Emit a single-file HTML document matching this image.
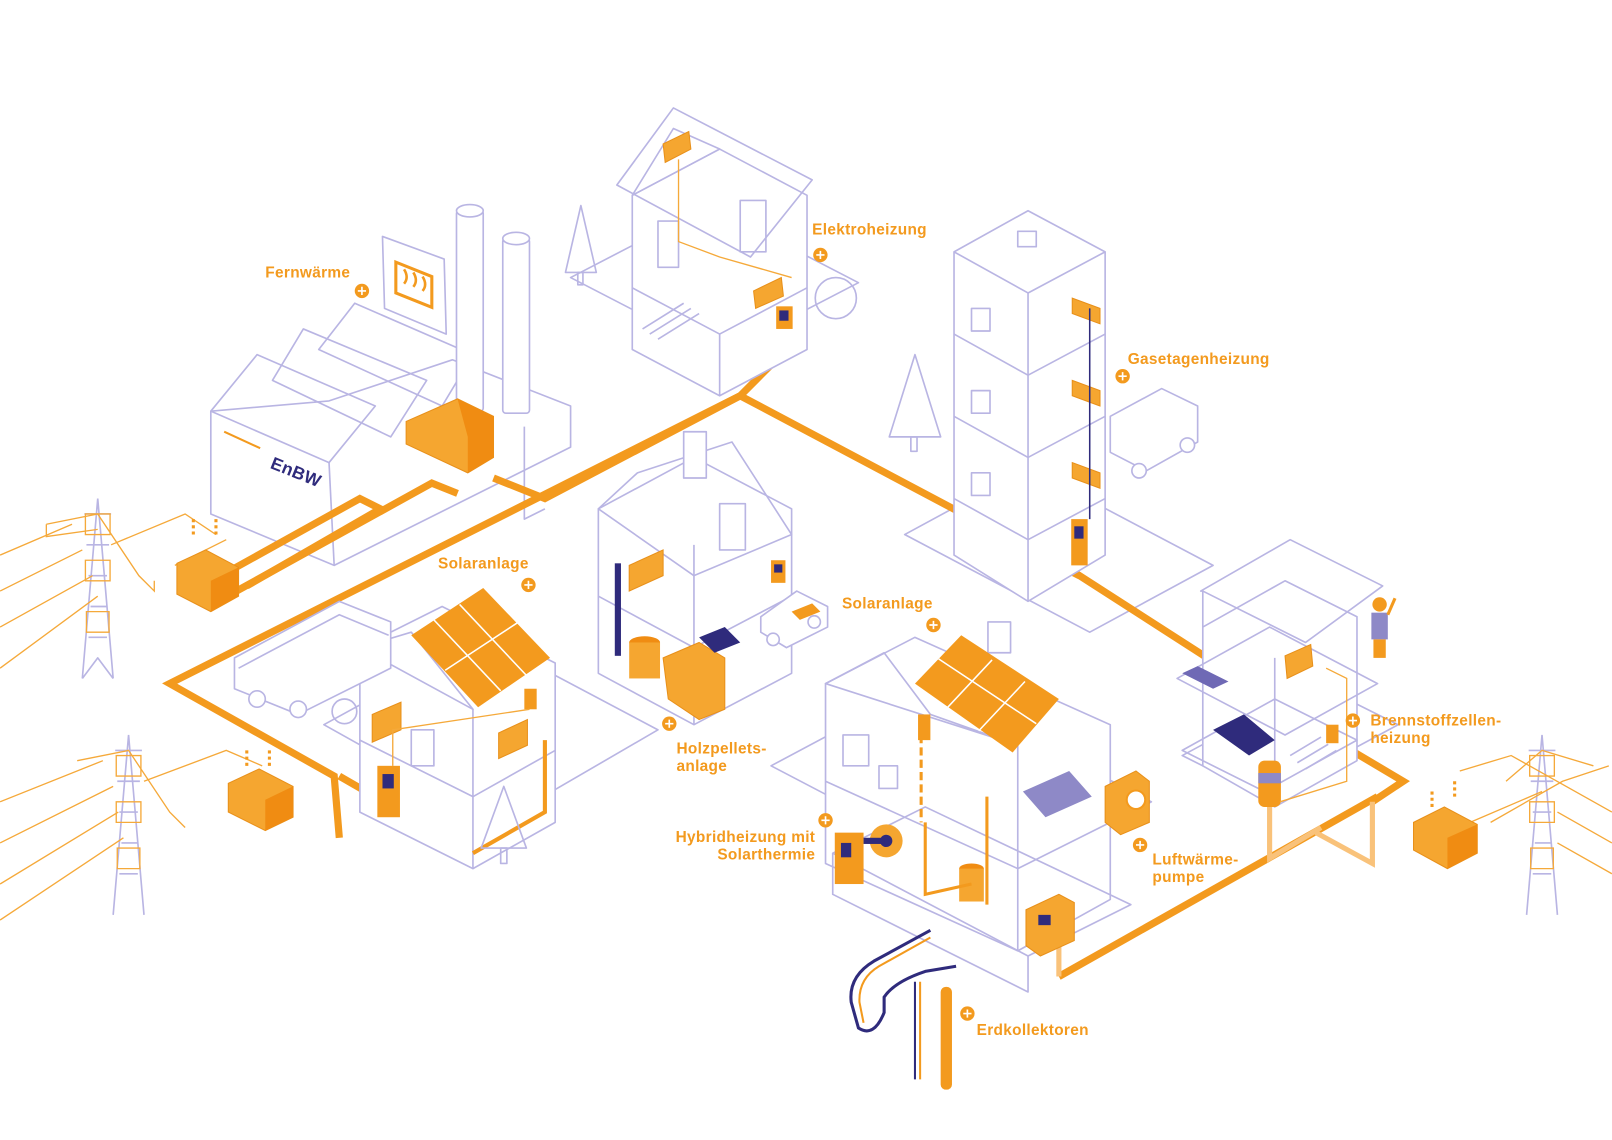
<!DOCTYPE html>
<html><head><meta charset="utf-8"><style>
html,body{margin:0;padding:0;background:#fff}
svg{display:block}
text{font-family:"Liberation Sans",sans-serif;font-size:15px;fill:#F39A1E;font-weight:bold;letter-spacing:0.3px}
.p{fill:none;stroke:#B9B5E3;stroke-width:1.6;stroke-linejoin:round}
.pf{fill:#fff;stroke:#B9B5E3;stroke-width:1.6;stroke-linejoin:round}
.o{fill:none;stroke:#F39A1E;stroke-width:7;stroke-linejoin:miter}
.ot{fill:none;stroke:#F5A93A;stroke-width:1.3}
.ob{fill:#F5A630;stroke:#E8901A;stroke-width:1}
.n{fill:#2F2B7C}
</style></head><body>
<svg width="1612" height="1140" viewBox="0 0 1568 1109" xmlns="http://www.w3.org/2000/svg">
<g class="p" stroke-width="1">
<polygon points="555,270 690,200 835,275 700,345"/>
<polygon points="880,520 1000,455 1180,550 1060,615"/>
<polygon points="315,705 470,620 640,710 485,800"/>
<polygon points="750,745 900,665 1120,780 970,860"/>
<polygon points="1150,735 1280,665 1360,705 1230,775"/>
</g>

<!-- factory (transparent) -->
<g>
<polygon class="p" points="205,400 205,500 325,550 555,435 555,395 440,350 320,390"/>
<polygon class="p" points="205,400 250,345 365,395 320,450 205,400"/>
<polygon class="p" points="265,370 295,320 415,370 380,425"/>
<polygon class="p" points="310,340 345,295 460,345 430,395"/>
<line class="p" x1="320" y1="450" x2="325" y2="550"/>
<polyline class="p" points="510,415 510,505 530,495"/>
<polygon class="pf" points="372,230 432,252 434,325 374,300"/>
<path d="M385,255 l35,14 0,30 -35,-14z" fill="none" stroke="#F39A1E" stroke-width="3"/>
<path d="M393,262 q5,8 0,14 M402,265 q5,8 0,14 M411,269 q5,8 0,14" stroke="#F39A1E" stroke-width="2.5" fill="none"/>
<rect class="pf" x="444" y="205" width="26" height="195" rx="3"/>
<ellipse class="pf" cx="457" cy="205" rx="13" ry="6"/>
<rect class="pf" x="489" y="232" width="26" height="170" rx="3"/>
<ellipse class="pf" cx="502" cy="232" rx="13" ry="6"/>
<line x1="218" y1="420" x2="253" y2="436" stroke="#F39A1E" stroke-width="2"/>
<text x="262" y="455" transform="rotate(22 262 455)" style="fill:#2F2B7C;font-size:17px">EnBW</text>
</g>

<!-- main orange pipes -->
<g class="o">
<polyline points="765,340 720,385 165,665 325,755 330,815"/>
<polyline points="720,385 1050,560 1190,650"/>
<polyline points="1230,680 1365,760 1335,780"/>
<polyline points="1340,775 1030,950"/>
<polyline points="230,575 420,470 445,480"/>
<polyline points="215,560 350,485 370,495 240,570"/>
<polyline points="480,465 530,485 720,385"/>
<polyline points="330,755 460,830 530,790"/>
<polyline points="1050,560 1020,545"/>
</g>
<g fill="none" stroke="#F9C27A" stroke-width="5">
<polyline points="1235,780 1235,835 1285,805"/>
<polyline points="1335,780 1335,840 1280,810"/>
<polyline points="1030,950 1030,890"/>
</g>
<polygon class="ob" points="395,410 445,388 480,405 480,445 455,460 395,432"/>
<polygon points="445,388 480,405 480,445 455,460 455,425" fill="#F08C12"/>

<!-- Elektroheizung house -->
<g>
<polygon class="pf" points="615,190 700,145 785,190 785,340 700,385 615,340"/>
<polyline class="p" points="615,280 700,325 785,280"/>
<line class="p" x1="700" y1="325" x2="700" y2="385"/>
<polygon class="p" points="600,180 655,105 790,175 730,250"/>
<polygon class="p" points="615,190 655,125 700,145"/>
<rect class="p" x="640" y="215" width="20" height="45"/>
<rect class="p" x="720" y="195" width="25" height="50"/>
<path class="p" d="M625,320 l40,-25 M632,325 l40,-25 M640,330 l40,-25"/>
<polygon class="ob" points="645,140 670,128 672,145 647,158"/>
<polygon class="ob" points="733,283 760,270 762,288 735,300"/>
<rect x="755" y="298" width="16" height="22" fill="#F39A1E"/><rect x="758" y="302" width="9" height="10" class="n"/>
<polyline points="660,155 660,235 700,250 770,270" class="ot" stroke-width="3"/>
<polygon class="p" points="565,200 580,265 550,265"/><rect class="p" x="562" y="265" width="5" height="12"/>
<circle class="p" cx="813" cy="290" r="20"/>
</g>

<!-- tower -->
<g>
<polygon class="pf" points="928,245 1000,205 1075,245 1075,540 1000,585 928,540"/>
<polyline class="p" points="928,245 1000,285 1075,245"/>
<line class="p" x1="1000" y1="285" x2="1000" y2="585"/>
<polyline class="p" points="928,325 1000,365 1075,325"/>
<polyline class="p" points="928,405 1000,445 1075,405"/>
<polyline class="p" points="928,485 1000,525 1075,485"/>
<rect class="p" x="990" y="225" width="18" height="15"/>
<rect class="p" x="945" y="300" width="18" height="22"/><rect class="p" x="945" y="380" width="18" height="22"/><rect class="p" x="945" y="460" width="18" height="22"/>
<polygon class="ob" points="1043,290 1070,300 1070,315 1043,305"/>
<polygon class="ob" points="1043,370 1070,380 1070,395 1043,385"/>
<polygon class="ob" points="1043,450 1070,460 1070,475 1043,465"/>
<rect x="1042" y="505" width="16" height="45" fill="#F39A1E"/><rect x="1045" y="512" width="9" height="12" class="n"/>
<line x1="1060" y1="300" x2="1060" y2="505" stroke="#2F2B7C" stroke-width="1.5"/>
<polygon class="p" points="890,345 915,425 865,425"/><rect class="p" x="886" y="425" width="6" height="14"/>
<polygon class="pf" points="1080,405 1130,378 1165,395 1165,430 1115,458 1080,440"/>
<circle class="pf" cx="1108" cy="458" r="7"/><circle class="pf" cx="1155" cy="433" r="7"/>
</g>

<!-- center house Holzpellets -->
<g>
<polygon class="pf" points="582,495 675,445 770,495 770,655 675,705 582,655"/>
<polyline class="p" points="582,580 675,630 770,580"/>
<line class="p" x1="675" y1="530" x2="675" y2="705"/>
<polygon class="p" points="582,495 620,460 712,430 770,520 675,560"/>
<rect class="pf" x="665" y="420" width="22" height="45"/>
<rect class="p" x="700" y="490" width="25" height="45"/>
<polygon class="ob" points="612,550 645,535 645,560 612,575"/>
<rect x="598" y="548" width="6" height="90" fill="#2F2B7C"/>
<ellipse cx="627" cy="625" rx="15" ry="6" fill="#F08C12"/><rect x="612" y="625" width="30" height="35" fill="#F5A630"/>
<polygon class="ob" points="645,640 680,625 705,640 705,690 680,700 650,680"/>
<polygon points="680,620 705,610 720,625 695,635" class="n"/>
<rect x="750" y="545" width="14" height="22" fill="#F39A1E"/><rect x="753" y="549" width="8" height="8" class="n"/>
<polygon class="pf" points="740,600 775,575 805,590 805,610 765,630 740,615"/>
<circle class="pf" cx="752" cy="622" r="6"/><circle class="pf" cx="792" cy="605" r="6"/>
<path d="M770,595 l20,-8 8,8 -20,8z" fill="#F39A1E"/>
</g>

<!-- left solar house -->
<g>
<polygon class="pf" points="350,630 430,590 540,645 540,800 460,845 350,790"/>
<polyline class="p" points="350,720 460,775 540,730"/>
<line class="p" x1="460" y1="690" x2="460" y2="845"/>
<polygon class="p" points="350,630 400,615 460,690"/>
<polygon points="400,618 470,572 535,640 465,688" fill="#F39A1E"/>
<path d="M422,603 l65,69 M447,588 l65,69 M433,652 l70,-46" stroke="#fff" stroke-width="1.5"/>
<rect class="p" x="400" y="710" width="22" height="35"/>
<polygon class="ob" points="362,695 390,683 390,710 362,722"/>
<polygon class="ob" points="485,713 513,700 513,725 485,738"/>
<rect x="367" y="745" width="22" height="50" fill="#F39A1E"/><rect x="372" y="753" width="11" height="14" class="n"/>
<rect x="510" y="670" width="12" height="20" fill="#F39A1E"/>
<polyline points="382,745 382,710 515,690" class="ot" stroke-width="3"/>
<polyline points="460,830 530,790 530,720" fill="none" stroke="#F39A1E" stroke-width="4"/>
<polygon class="p" points="490,765 512,825 468,825"/><rect class="p" x="487" y="825" width="6" height="15"/>
<polygon class="pf" points="228,640 330,585 380,605 380,650 290,695 228,670"/>
<polyline class="p" points="232,650 330,598 378,618"/>
<circle class="pf" cx="250" cy="680" r="8"/><circle class="pf" cx="290" cy="690" r="8"/>
<circle class="p" cx="335" cy="692" r="12"/>
</g>

<!-- Hybrid house -->
<g>
<polygon class="pf" points="803,665 890,620 1080,705 1080,875 990,925 803,840"/>
<polyline class="p" points="803,760 990,845 1080,800"/>
<line class="p" x1="990" y1="725" x2="990" y2="925"/>
<polygon class="p" points="803,665 860,635 905,695 990,725"/>
<polygon class="pf" points="961,605 983,605 983,635 961,635"/>
<polygon points="890,665 935,618 1030,680 985,732" fill="#F39A1E"/>
<path d="M913,641 l95,63 M920,690 l45,-48 M952,711 l45,-48" stroke="#fff" stroke-width="1.5"/>
<polygon class="p" points="810,830 900,785 1100,880 1000,930"/>
<polyline class="p" points="1000,930 1000,965 900,915 810,870 810,830"/>
<rect class="p" x="820" y="715" width="25" height="30"/>
<rect class="p" x="855" y="745" width="18" height="22"/>
<polygon fill="#8E89C7" points="995,770 1040,750 1062,775 1017,795"/>
<rect x="893" y="695" width="12" height="25" fill="#F39A1E"/>
<line x1="896" y1="715" x2="896" y2="800" stroke="#F39A1E" stroke-width="3" stroke-dasharray="8 4"/>
<polygon class="ob" points="1075,765 1105,750 1118,760 1118,800 1090,812 1075,800"/>
<circle cx="1105" cy="778" r="9" fill="#fff" stroke="#F39A1E" stroke-width="2"/>
<rect x="812" y="810" width="28" height="50" fill="#F39A1E"/><rect x="818" y="820" width="10" height="14" class="n"/>
<ellipse cx="862" cy="818" rx="16" ry="16" fill="#F5A630"/><ellipse cx="862" cy="818" rx="6" ry="6" class="n"/>
<rect x="840" y="815" width="20" height="6" class="n"/>
<ellipse cx="945" cy="845" rx="12" ry="5" fill="#F08C12"/><rect x="933" y="845" width="24" height="32" fill="#F5A630"/>
<polygon class="ob" points="998,885 1030,870 1045,878 1045,915 1012,930 998,920"/>
<rect x="1010" y="890" width="12" height="10" class="n"/>
<line x1="960" y1="775" x2="960" y2="880" stroke="#F39A1E" stroke-width="3"/>
<polyline points="900,800 900,870 945,860" fill="none" stroke="#F39A1E" stroke-width="3"/>
<path d="M905,905 L850,935 Q825,950 828,975 L835,1000 Q850,1010 860,985 L860,970 Q870,955 900,945 L930,940" fill="none" stroke="#2F2B7C" stroke-width="3"/>
<path d="M905,912 L855,940 Q835,952 836,975 L840,995" fill="none" stroke="#F39A1E" stroke-width="2"/>
<line x1="890" y1="955" x2="890" y2="1050" stroke="#2F2B7C" stroke-width="2"/>
<line x1="895" y1="955" x2="895" y2="1050" stroke="#F39A1E" stroke-width="2"/>
<rect x="915" y="960" width="11" height="100" rx="5" fill="#F39A1E"/>
</g>

<!-- Brennstoff house -->
<g>
<polygon class="pf" points="1170,610 1250,565 1320,600 1320,740 1240,785 1170,745"/>
<polygon class="p" points="1168,575 1255,525 1345,570 1270,625 1170,575"/>
<polyline class="p" points="1170,575 1170,610"/>
<polygon class="p" points="1145,660 1235,610 1340,665 1250,715"/>
<polygon class="p" points="1150,730 1240,680 1320,720 1230,770"/>
<line class="p" x1="1240" y1="640" x2="1240" y2="785"/>
<polygon points="1150,655 1165,648 1195,663 1180,670" fill="#6F69B5"/>
<polygon points="1180,710 1210,695 1240,720 1215,735" class="n"/>
<polygon class="ob" points="1250,638 1275,627 1277,648 1252,660"/>
<rect x="1224" y="740" width="22" height="45" rx="6" fill="#F39A1E"/><rect x="1224" y="752" width="22" height="10" fill="#8E89C7"/>
<path class="p" d="M1255,735 l30,-18 M1262,742 l30,-18 M1270,748 l30,-18"/>
<rect x="1290" y="705" width="12" height="18" fill="#F39A1E"/>
<polyline points="1290,650 1310,660 1310,760 1245,780" class="ot" stroke-width="2.5"/>
<circle cx="1342" cy="588" r="7" fill="#F39A1E"/>
<rect x="1334" y="596" width="16" height="26" fill="#8E89C7"/><rect x="1336" y="622" width="12" height="18" fill="#F39A1E"/>
<line x1="1350" y1="598" x2="1357" y2="582" stroke="#F39A1E" stroke-width="3"/>
</g>

<!-- pylons -->
<g class="p">
<path d="M95,485 L80,660 M95,485 L110,660 M82,500 h26 M84,530 h22 M86,560 h18 M88,590 h16 M86,620 h18 M80,660 l15,-20 15,20"/>
</g>
<g class="ot">
<path d="M83,500 h24 v20 h-24z M83,545 h24 v20 h-24z M84,595 h22 v20 h-22z"/>
<path d="M45,510 L95,500 L135,560 L150,575 L150,565 M45,510 l0,12 L95,515"/>
<path d="M0,540 L70,510 M0,575 L80,535 M0,610 L90,560 M0,650 L95,580 M108,530 L180,500 L210,520 M170,550 L220,525"/>
</g>
<g class="p">
<path d="M125,715 L110,890 M125,715 L140,890 M112,730 h26 M114,760 h22 M116,790 h18 M118,820 h16 M116,850 h18"/>
</g>
<g class="ot">
<path d="M113,735 h24 v20 h-24z M113,780 h24 v20 h-24z M114,825 h22 v20 h-22z"/>
<path d="M75,740 L125,730 L165,790 L180,805 M0,780 L100,740 M0,820 L110,765 M0,860 L115,790 M0,895 L120,815 M140,760 L220,730 L255,745"/>
</g>
<g class="p">
<path d="M1500,715 L1485,890 M1500,715 L1515,890 M1487,730 h26 M1489,760 h22 M1491,790 h18 M1493,820 h16 M1491,850 h18"/>
</g>
<g class="ot">
<path d="M1488,735 h24 v20 h-24z M1488,780 h24 v20 h-24z M1489,825 h22 v20 h-22z"/>
<path d="M1450,800 L1520,760 L1565,745 M1465,760 L1500,730 L1550,745 M1515,790 L1568,820 M1515,820 L1568,850 M1430,800 L1500,770 M1420,750 L1470,735 L1568,790"/>
</g>

<!-- transformers -->
<g>
<polygon class="ob" points="172,548 200,535 232,552 232,580 205,595 172,578"/>
<polygon points="205,565 232,552 232,580 205,595" fill="#F08C12"/>
<polygon class="ob" points="222,762 252,748 285,765 285,795 258,808 222,790"/>
<polygon points="258,778 285,765 285,795 258,808" fill="#F08C12"/>
<polygon class="ob" points="1375,800 1405,785 1437,802 1437,830 1408,845 1375,827"/>
<polygon points="1408,815 1437,802 1437,830 1408,845" fill="#F08C12"/>
<path d="M188,520 v-18 M210,520 v-18 M240,745 v-18 M262,745 v-18 M1393,785 v-18 M1415,775 v-18" stroke="#F39A1E" stroke-width="3" stroke-dasharray="3 3"/>
</g>

<!-- labels -->
<g>
<g fill="#F39A1E">
<circle cx="352" cy="283" r="7"/><circle cx="798" cy="248" r="7"/><circle cx="1092" cy="366" r="7"/>
<circle cx="514" cy="569" r="7"/><circle cx="908" cy="608" r="7"/><circle cx="651" cy="704" r="7"/>
<circle cx="1316" cy="701" r="7"/><circle cx="803" cy="798" r="7"/><circle cx="1109" cy="822" r="7"/>
<circle cx="941" cy="986" r="7"/>
</g>
<g stroke="#fff" stroke-width="1.6">
<path d="M348,283h8M352,279v8 M794,248h8M798,244v8 M1088,366h8M1092,362v8 M510,569h8M514,565v8 M904,608h8M908,604v8 M647,704h8M651,700v8 M1312,701h8M1316,697v8 M799,798h8M803,794v8 M1105,822h8M1109,818v8 M937,986h8M941,982v8"/>
</g>
<text x="258" y="270">Fernwärme</text>
<text x="790" y="228">Elektroheizung</text>
<text x="1097" y="354">Gasetagenheizung</text>
<text x="426" y="553">Solaranlage</text>
<text x="819" y="592">Solaranlage</text>
<text x="658" y="733">Holzpellets-</text>
<text x="658" y="750">anlage</text>
<text x="1333" y="706">Brennstoffzellen-</text>
<text x="1333" y="723">heizung</text>
<text x="793" y="819" text-anchor="end">Hybridheizung mit</text>
<text x="793" y="836" text-anchor="end">Solarthermie</text>
<text x="1121" y="841">Luftwärme-</text>
<text x="1121" y="858">pumpe</text>
<text x="950" y="1007">Erdkollektoren</text>
</g>
</svg>
</body></html>
